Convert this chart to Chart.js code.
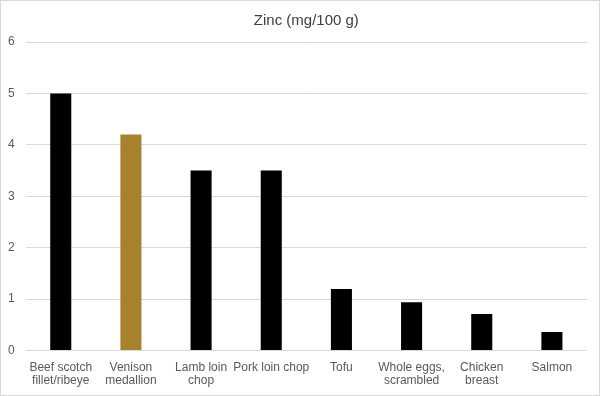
<!DOCTYPE html>
<html>
<head>
<meta charset="utf-8">
<script src="https://cdn.jsdelivr.net/npm/chart.js@4"></script>
<style>
  body { margin: 0; background: #fff; }
  #wrap { width: 600px; height: 396px; box-sizing: border-box; border: 1px solid #d9d9d9; }
  canvas { display: block; }
</style>
</head>
<body>
<div id="wrap"><canvas id="myChart" width="598" height="394"></canvas></div>
<script>
// chart data
const chartTitle = 'Zinc (mg/100 g)';
const categories = [
  ['Beef scotch', 'fillet/ribeye'],
  ['Venison', 'medallion'],
  ['Lamb loin', 'chop'],
  'Pork loin chop',
  'Tofu',
  ['Whole eggs,', 'scrambled'],
  ['Chicken', 'breast'],
  'Salmon'
];
const zincValues = [5.0, 4.2, 3.5, 3.5, 1.2, 0.94, 0.71, 0.36];
const barColors = ['#000000', '#a6822f', '#000000', '#000000', '#000000', '#000000', '#000000', '#000000'];
const yTicks = [0, 1, 2, 3, 4, 5, 6];

const labelFont = { family: "'Liberation Sans', Arial, sans-serif", size: 12, lineHeight: 1.1 };

// title centred over the plot area (the built-in one centres on the whole canvas)
const plotTitle = {
  id: 'plotTitle',
  afterDraw(chart) {
    const c = chart.ctx;
    const area = chart.chartArea;
    c.save();
    c.fillStyle = '#404040';
    c.font = "15px 'Liberation Sans', Arial, sans-serif";
    c.textAlign = 'center';
    c.textBaseline = 'middle';
    c.fillText(chartTitle, (area.left + area.right) / 2, 19.5);
    c.restore();
  }
};

const ctx = document.getElementById('myChart').getContext('2d');
const myBarChart = new Chart(ctx, {
  type: 'bar',
  data: {
    labels: categories,
    datasets: [{
      label: chartTitle,
      data: zincValues,
      backgroundColor: barColors,
      borderWidth: 0,
      barPercentage: 0.3,
      categoryPercentage: 1
    }]
  },
  plugins: [plotTitle],
  options: {
    responsive: false,
    animation: false,
    layout: {
      // chart.js counts tick padding twice when sizing axes, so pull back a bit
      padding: { left: -4, right: 12, top: 41, bottom: -2 }
    },
    plugins: {
      legend: { display: false },
      tooltip: { enabled: false },
      title: { display: false }
    },
    scales: {
      x: {
        grid: { display: false, drawTicks: false },
        border: { display: false },
        ticks: {
          color: '#595959',
          font: labelFont,
          padding: 10,
          maxRotation: 0,
          autoSkip: false
        },
        afterFit: function (axis) {
          axis.paddingLeft = 0;
          axis.paddingRight = 0;
        }
      },
      y: {
        min: 0,
        max: 6,
        afterBuildTicks: function (axis) {
          axis.ticks = yTicks.map(v => ({ value: v }));
        },
        grid: { color: '#d9d9d9', drawTicks: false },
        border: { display: false },
        ticks: {
          color: '#595959',
          font: labelFont,
          padding: 11
        }
      }
    }
  }
});
</script>
</body>
</html>
